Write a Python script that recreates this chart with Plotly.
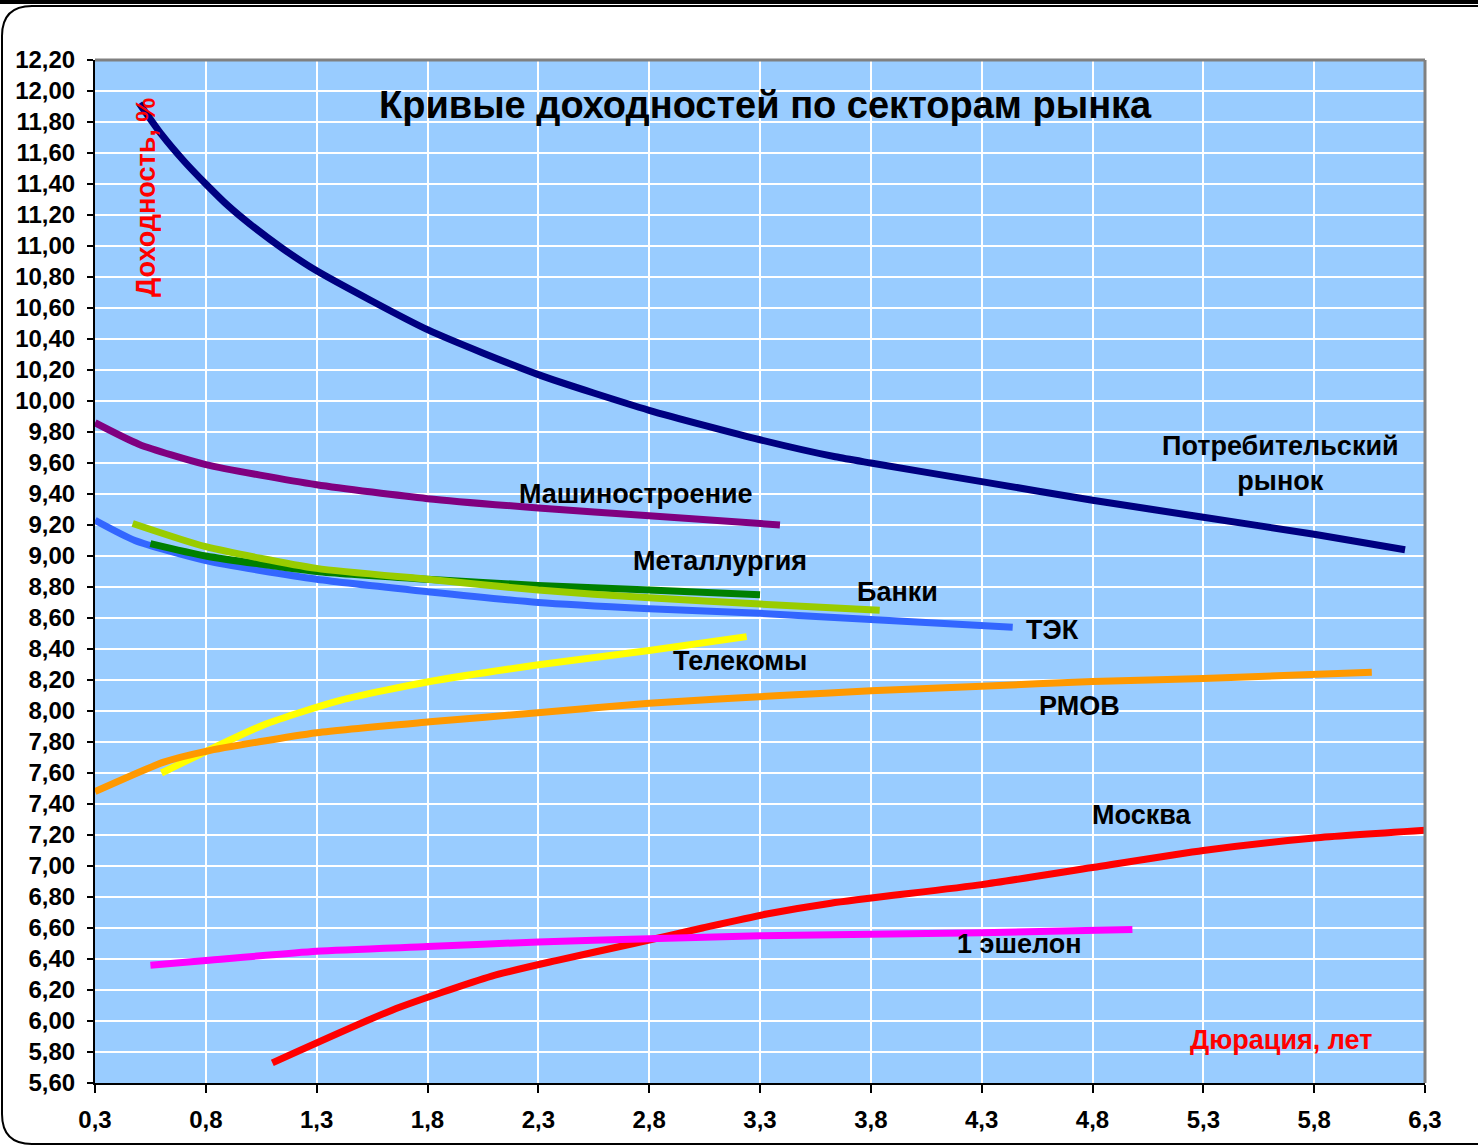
import plotly.graph_objects as go

# ---------------- data ----------------
potreb_x = [0.50, 0.60, 0.70, 0.80, 0.90, 1.00, 1.15, 1.30, 1.80, 2.30, 2.80, 3.30, 3.64, 3.80, 4.30, 4.80, 5.30, 5.80, 6.21]
potreb_y = [11.92, 11.72, 11.55, 11.40, 11.26, 11.14, 10.98, 10.84, 10.46, 10.17, 9.94, 9.75, 9.64, 9.60, 9.48, 9.36, 9.25, 9.14, 9.04]

mash_x = [0.30, 0.50, 0.80, 1.30, 1.80, 2.30, 2.80, 3.39]
mash_y = [9.86, 9.72, 9.59, 9.46, 9.37, 9.31, 9.26, 9.20]

tek_x = [0.30, 0.48, 0.80, 1.30, 1.80, 2.30, 2.80, 3.30, 3.80, 4.44]
tek_y = [9.23, 9.10, 8.97, 8.85, 8.77, 8.70, 8.66, 8.63, 8.59, 8.54]

banki_x = [0.47, 0.80, 1.30, 1.80, 2.30, 2.80, 3.30, 3.84]
banki_y = [9.21, 9.06, 8.92, 8.85, 8.78, 8.73, 8.69, 8.65]

metal_x = [0.55, 0.80, 1.30, 1.80, 2.30, 2.80, 3.30]
metal_y = [9.08, 9.00, 8.90, 8.85, 8.81, 8.78, 8.75]

telecom_x = [0.60, 1.06, 1.41, 1.81, 2.31, 2.80, 3.24]
telecom_y = [7.60, 7.91, 8.07, 8.19, 8.30, 8.39, 8.48]

rmov_x = [0.30, 0.61, 0.80, 1.30, 1.81, 2.31, 2.80, 3.39, 3.80, 4.30, 4.80, 5.30, 6.06]
rmov_y = [7.48, 7.67, 7.74, 7.86, 7.93, 7.99, 8.05, 8.10, 8.13, 8.16, 8.19, 8.21, 8.25]

moskva_x = [1.10, 1.64, 2.09, 2.38, 2.73, 3.04, 3.33, 3.62, 4.30, 4.80, 5.30, 5.80, 6.30]
moskva_y = [5.73, 6.07, 6.29, 6.39, 6.50, 6.60, 6.69, 6.76, 6.88, 6.99, 7.10, 7.18, 7.23]

eshelon_x = [0.55, 0.80, 1.30, 1.80, 2.30, 2.80, 3.30, 3.80, 4.30, 4.98]
eshelon_y = [6.36, 6.39, 6.45, 6.48, 6.51, 6.53, 6.55, 6.56, 6.57, 6.59]

x_ticks = [0.3, 0.8, 1.3, 1.8, 2.3, 2.8, 3.3, 3.8, 4.3, 4.8, 5.3, 5.8, 6.3]
y_ticks = [round(5.6 + 0.2 * i, 2) for i in range(34)]

title_text = "Кривые доходностей по секторам рынка"
y_title = "Доходность, %"
x_title = "Дюрация, лет"

series = [
    ("Потребительский рынок", potreb_x, potreb_y, "#000080"),
    ("Машиностроение", mash_x, mash_y, "#800080"),
    ("ТЭК", tek_x, tek_y, "#3366FF"),
    ("Металлургия", metal_x, metal_y, "#008000"),
    ("Банки", banki_x, banki_y, "#99CC00"),
    ("Телекомы", telecom_x, telecom_y, "#FFFF00"),
    ("РМОВ", rmov_x, rmov_y, "#FF9900"),
    ("Москва", moskva_x, moskva_y, "#FF0000"),
    ("1 эшелон", eshelon_x, eshelon_y, "#FF00FF"),
]

labels = [
    ("Потребительский<br>рынок", 5.65, 9.60),
    ("Машиностроение", 2.74, 9.40),
    ("Металлургия", 3.12, 8.97),
    ("Банки", 3.92, 8.77),
    ("ТЭК", 4.62, 8.52),
    ("Телекомы", 3.21, 8.32),
    ("РМОВ", 4.74, 8.03),
    ("Москва", 5.02, 7.33),
    ("1 эшелон", 4.47, 6.50),
]

# ---------------- figure ----------------
W, H = 1478, 1146
L, R, T, B = 95, 53, 60, 63
PW, PH = W - L - R, H - T - B

def px(x):
    return (x - L) / PW

def py(y):
    return (H - B - y) / PH

fig = go.Figure()
for name, xs, ys, col in series:
    fig.add_trace(go.Scatter(x=xs, y=ys, mode="lines", name=name,
                             line=dict(color=col, width=7, shape="spline", smoothing=0.6),
                             showlegend=False, hoverinfo="x+y+name"))

font_family = "Liberation Sans, Arial, sans-serif"

annotations = []
for txt, x, y in labels:
    annotations.append(dict(x=x, y=y, xref="x", yref="y", text=txt, showarrow=False,
                            xanchor="center", yanchor="middle",
                            font=dict(size=27, color="black", family=font_family, weight="bold"),
                            align="center"))
annotations.append(dict(x=px(765), y=py(105), xref="paper", yref="paper", text=title_text,
                        xanchor="center", yanchor="middle", showarrow=False,
                        font=dict(size=38, color="black", family=font_family, weight="bold")))
annotations.append(dict(x=px(146), y=py(198), xref="paper", yref="paper", text=y_title, textangle=-90,
                        xanchor="center", yanchor="middle", showarrow=False,
                        font=dict(size=27, color="#FF0000", family=font_family, weight="bold")))
annotations.append(dict(x=px(1281), y=py(1040), xref="paper", yref="paper", text=x_title,
                        xanchor="center", yanchor="middle", showarrow=False,
                        font=dict(size=27, color="#FF0000", family=font_family, weight="bold")))

# frame decoration
r = 30
x0, y0, x1, y1 = 2, 6, 1476 + 30, 1144
path = (f"M {px(x0)},{py(y0 + r)} "
        f"Q {px(x0)},{py(y0)} {px(x0 + r)},{py(y0)} "
        f"L {px(x1 - r)},{py(y0)} "
        f"Q {px(x1)},{py(y0)} {px(x1)},{py(y0 + r)} "
        f"L {px(x1)},{py(y1 - r)} "
        f"Q {px(x1)},{py(y1)} {px(x1 - r)},{py(y1)} "
        f"L {px(x0 + r)},{py(y1)} "
        f"Q {px(x0)},{py(y1)} {px(x0)},{py(y1 - r)} Z")

shapes = [
    dict(type="path", path=path, xref="paper", yref="paper", line=dict(color="black", width=2),
         fillcolor="rgba(0,0,0,0)", layer="below"),
    dict(type="rect", xref="paper", yref="paper", x0=px(0), x1=px(W), y0=py(0), y1=py(4),
         line=dict(width=0), fillcolor="black", layer="below"),
    dict(type="line", xref="paper", yref="paper", x0=0, x1=1, y0=1, y1=1,
         line=dict(color="#808080", width=3)),
    dict(type="line", xref="paper", yref="paper", x0=1, x1=1, y0=0, y1=1,
         line=dict(color="#808080", width=3)),
]

fig.update_layout(
    width=W, height=H,
    margin=dict(l=L, r=R, t=T, b=B, pad=0),
    paper_bgcolor="white",
    plot_bgcolor="#99CCFF",
    separators=", ",
    font=dict(family=font_family, color="black"),
    annotations=annotations,
    shapes=shapes,
    xaxis=dict(range=[0.3, 6.3], tickvals=x_ticks, tickformat=".1f",
               showgrid=True, gridcolor="white", gridwidth=1.5,
               zeroline=False, showline=True, linecolor="black", linewidth=2,
               ticks="outside", ticklen=8, tickcolor="black", tickwidth=1.5,
               ticklabelstandoff=6,
               tickfont=dict(size=24, weight="bold", family=font_family, color="black"),
               fixedrange=True),
    yaxis=dict(range=[5.6, 12.2], tickvals=y_ticks, tickformat=".2f",
               showgrid=True, gridcolor="white", gridwidth=1.5,
               zeroline=False, showline=True, linecolor="black", linewidth=2,
               ticks="outside", ticklen=6, tickcolor="black", tickwidth=1.5,
               ticklabelstandoff=7,
               tickfont=dict(size=24, weight="bold", family=font_family, color="black"),
               fixedrange=True),
)

fig.write_html("out.html", config={"displayModeBar": False},
               post_script="document.body.style.margin='0';document.body.style.overflow='hidden';")
